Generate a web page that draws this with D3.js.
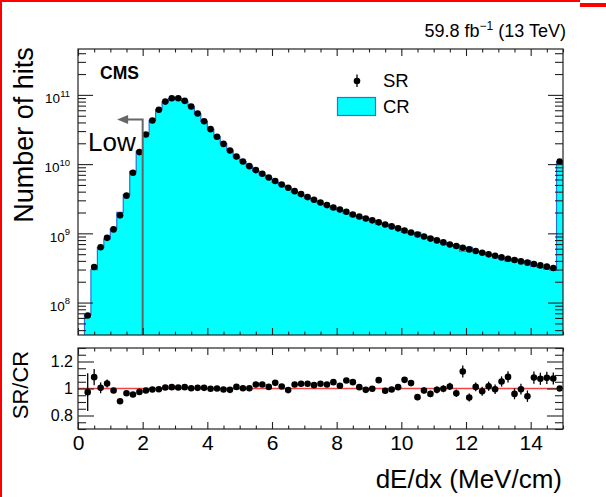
<!DOCTYPE html>
<html><head><meta charset="utf-8">
<script src="https://cdn.jsdelivr.net/npm/d3@7"></script>
<style>
body{margin:0;background:#fff}
svg{display:block}
text{font-family:"Liberation Sans",Arial,Helvetica,sans-serif;fill:#000}
</style>
</head><body>
<svg id="c" width="606" height="497"></svg>
<script>
// ---------------- data ----------------
const binWidth = 0.2;
const binCenters = [0.3,0.5,0.7,0.9,1.1,1.3,1.5,1.7,1.9,2.1,2.3,2.5,2.7,2.9,3.1,3.3,3.5,3.7,3.9,4.1,
  4.3,4.5,4.7,4.9,5.1,5.3,5.5,5.7,5.9,6.1,6.3,6.5,6.7,6.9,7.1,7.3,7.5,7.7,7.9,8.1,
  8.3,8.5,8.7,8.9,9.1,9.3,9.5,9.7,9.9,10.1,10.3,10.5,10.7,10.9,11.1,11.3,11.5,11.7,11.9,12.1,
  12.3,12.5,12.7,12.9,13.1,13.3,13.5,13.7,13.9,14.1,14.3,14.5,14.7,14.9];
const srCounts = [6.5e7,3.26e8,6.3e8,8.6e8,1.14e9,1.82e9,3.5e9,7.5e9,1.49e10,2.68e10,
  4.26e10,6.1e10,8.0e10,8.96e10,8.96e10,8.2e10,6.8e10,5.37e10,4.17e10,3.2e10,
  2.48e10,1.96e10,1.57e10,1.29e10,1.09e10,9.35e9,8.2e9,7.24e9,6.4e9,5.7e9,
  5.08e9,4.55e9,4.07e9,3.69e9,3.34e9,3.05e9,2.79e9,2.56e9,2.36e9,2.21e9,
  2.05e9,1.87e9,1.75e9,1.64e9,1.54e9,1.44e9,1.34e9,1.26e9,1.18e9,1.10e9,
  1.03e9,9.6e8,9.0e8,8.4e8,7.9e8,7.4e8,6.9e8,6.55e8,6.2e8,5.86e8,
  5.55e8,5.25e8,4.97e8,4.75e8,4.49e8,4.3e8,4.11e8,3.93e8,3.77e8,3.6e8,
  3.44e8,3.3e8,3.15e8,1.09e10];
const crCounts = [6.7e7,3.0e8,6.27e8,8.3e8,1.16e9,2.01e9,3.63e9,7.85e9,1.53e10,2.72e10,
  4.29e10,6.13e10,7.95e10,8.87e10,8.9e10,8.12e10,6.79e10,5.34e10,4.15e10,3.2e10,
  2.48e10,1.97e10,1.59e10,1.27e10,1.09e10,9.33e9,7.96e9,7.03e9,6.32e9,5.47e9,
  5.0e9,4.6e9,3.95e9,3.57e9,3.23e9,2.98e9,2.7e9,2.49e9,2.25e9,2.17e9,
  1.94e9,1.79e9,1.73e9,1.66e9,1.54e9,1.36e9,1.36e9,1.27e9,1.17e9,1.03e9,
  0.99e9,1.03e9,9.14e8,8.75e8,7.98e8,7.41e8,6.8e8,6.79e8,5.51e8,6.28e8,
  5.48e8,5.36e8,4.89e8,4.77e8,4.27e8,3.96e8,4.28e8,3.95e8,4.0e8,3.33e8,
  3.21e8,3.06e8,2.93e8,1.09e10];
const ratio = [0.973,1.084,1.005,1.037,0.985,0.906,0.965,0.956,0.975,0.985,
  0.993,0.995,1.007,1.01,1.007,1.01,1.002,1.005,1.005,0.998,
  1.0,0.993,0.99,1.012,1.002,1.002,1.03,1.03,1.012,1.042,
  1.015,0.988,1.03,1.035,1.035,1.025,1.035,1.03,1.047,1.02,
  1.059,1.047,1.01,0.99,0.998,1.062,0.983,0.993,1.01,1.064,
  1.04,0.936,0.985,0.96,0.99,0.998,1.015,0.965,1.126,0.933,
  1.012,0.98,1.017,0.995,1.052,1.086,0.96,0.995,0.943,1.081,
  1.072,1.079,1.074,1.0];
const ratioErr = [0.14,0.06,0.04,0.03,0.02,0.012,0.01,0.008,0.006,0.005,
  0.005,0.005,0.005,0.005,0.005,0.005,0.005,0.005,0.005,0.005,
  0.005,0.005,0.005,0.005,0.005,0.005,0.006,0.006,0.006,0.007,
  0.007,0.007,0.008,0.008,0.008,0.009,0.009,0.01,0.01,0.01,
  0.011,0.011,0.012,0.012,0.013,0.015,0.015,0.016,0.017,0.02,
  0.02,0.022,0.022,0.024,0.025,0.026,0.027,0.028,0.045,0.03,
  0.032,0.033,0.034,0.035,0.038,0.042,0.04,0.04,0.042,0.045,
  0.045,0.045,0.045,0.01];
const xTickValues = [0,2,4,6,8,10,12,14];
const xTickLabels = ["0","2","4","6","8","10","12","14"];
const logTickValues = [1e8,1e9,1e10,1e11];
const logTickExponents = ["8","9","10","11"];
const ratioTickValues = [0.8,1.0,1.2];
const ratioTickLabels = ["0.8","1","1.2"];
const lowCut = 2.0, lowArrowTop = 4.4e10, lowArrowTip = 1.21;

// ---------------- layout ----------------
const svg = d3.select("#c");
const L = 78, R = 563, T1 = 49, B1 = 335, T2 = 348, B2 = 429;
const x = d3.scaleLinear().domain([0, 15]).range([L, R]);
const y1 = d3.scaleLog().domain([3.4e7, 4.6e11]).range([B1, T1]);
const y2 = d3.scaleLinear().domain([0.7, 1.3]).range([B2, T2]);
const CYAN = "#00ffff", BLUE = "#2f6fd6";

// screenshot border decoration
svg.append("rect").attr("x",0).attr("y",0).attr("width",580).attr("height",2).attr("fill","#ff0000");
svg.append("rect").attr("x",580).attr("y",3).attr("width",26).attr("height",4).attr("fill","#ff0000");
svg.append("rect").attr("x",0).attr("y",0).attr("width",2).attr("height",497).attr("fill","#ff0000");

svg.append("clipPath").attr("id","clipMain").append("rect")
  .attr("x",L).attr("y",T1).attr("width",R-L).attr("height",B1-T1);

// histogram (CR)
const n = binCenters.length;
const histPts = [{x: binCenters[0]-binWidth/2, v: y1.domain()[0]}];
binCenters.forEach((c,i)=>histPts.push({x: c-binWidth/2, v: crCounts[i]}));
histPts.push({x: binCenters[n-1]+binWidth/2, v: crCounts[n-1]});
const gMain = svg.append("g").attr("clip-path","url(#clipMain)");
gMain.append("path").datum(histPts)
  .attr("d", d3.area().x(d=>x(d.x)).y0(B1).y1(d=>y1(d.v)).curve(d3.curveStepAfter))
  .attr("fill", CYAN);
gMain.append("path").datum(histPts)
  .attr("d", d3.line().x(d=>x(d.x)).y(d=>y1(d.v)).curve(d3.curveStepAfter))
  .attr("fill","none").attr("stroke",BLUE).attr("stroke-width",1.2);

// Low arrow
const ax = x(lowCut), ay = y1(lowArrowTop), tip = x(lowArrowTip);
svg.append("path").attr("d",`M${ax},${B1}V${ay}H${tip+10}`)
  .attr("fill","none").attr("stroke","#666").attr("stroke-width",2);
svg.append("path").attr("d",`M${tip},${ay}L${tip+11},${ay-4.5}L${tip+11},${ay+4.5}Z`).attr("fill","#666");
svg.append("text").attr("x",88).attr("y",150.5).attr("font-size",26).text("Low");

// SR points
gMain.selectAll("circle.sr").data(binCenters).join("circle")
  .attr("cx",d=>x(d)).attr("cy",(d,i)=>y1(srCounts[i])).attr("r",3.3).attr("fill","#000");

// frame main
function frame(t,b){
  svg.append("rect").attr("x",L).attr("y",t).attr("width",R-L).attr("height",b-t)
    .attr("fill","none").attr("stroke","#222").attr("stroke-width",1.2);
}
function clean(g){ g.select(".domain").remove(); g.selectAll("line").attr("stroke","#222").attr("stroke-width",1.1); }
const xMinor = d3.range(0, 15.001, 0.5).filter(v=>v%2!==0);
function xTicks(t,b,labels){
  svg.append("g").attr("transform",`translate(0,${b})`).call(d3.axisBottom(x).tickValues(xMinor).tickSize(-3.5).tickFormat("")).call(clean);
  svg.append("g").attr("transform",`translate(0,${t})`).call(d3.axisTop(x).tickValues(xMinor).tickSize(-3.5).tickFormat("")).call(clean);
  const gb = svg.append("g").attr("transform",`translate(0,${b})`)
    .call(d3.axisBottom(x).tickValues(xTickValues).tickSize(-7).tickPadding(6)
      .tickFormat((d,i)=>labels ? xTickLabels[i] : "")).call(clean);
  gb.selectAll("text").attr("font-size",21).attr("font-family","Liberation Sans, Arial, sans-serif").attr("fill","#000");
  svg.append("g").attr("transform",`translate(0,${t})`).call(d3.axisTop(x).tickValues(xTickValues).tickSize(-7).tickFormat("")).call(clean);
}
frame(T1,B1);
xTicks(T1,B1,false);
// log y ticks
const logMinor = y1.ticks().filter(v=>!logTickValues.includes(v));
svg.append("g").attr("transform",`translate(${L},0)`).call(d3.axisLeft(y1).tickValues(logMinor).tickSize(-8).tickFormat("")).call(clean);
svg.append("g").attr("transform",`translate(${R},0)`).call(d3.axisRight(y1).tickValues(logMinor).tickSize(-8).tickFormat("")).call(clean);
svg.append("g").attr("transform",`translate(${R},0)`).call(d3.axisRight(y1).tickValues(logTickValues).tickSize(-15).tickFormat("")).call(clean);
const gl = svg.append("g").attr("transform",`translate(${L},0)`)
  .call(d3.axisLeft(y1).tickValues(logTickValues).tickSize(-15).tickPadding(8).tickFormat(""))
  .call(clean);
gl.selectAll(".tick text").each(function(d,i){
  const t = d3.select(this).attr("dy",null).attr("y",7.8).attr("font-size",13.5)
    .attr("font-family","Liberation Sans, Arial, sans-serif").attr("fill","#000");
  t.append("tspan").text("10");
  t.append("tspan").attr("font-size",9.5).attr("dy",-6.6).text(logTickExponents[i]);
});

// legend
svg.append("line").attr("x1",357).attr("x2",357).attr("y1",74.5).attr("y2",87).attr("stroke","#000").attr("stroke-width",1.3);
svg.append("circle").attr("cx",357).attr("cy",81).attr("r",3.3).attr("fill","#000");
svg.append("text").attr("x",383).attr("y",86.7).attr("font-size",18.5).text("SR");
svg.append("rect").attr("x",337.5).attr("y",97.5).attr("width",38).attr("height",18).attr("fill",CYAN).attr("stroke",BLUE).attr("stroke-width",1.2);
svg.append("text").attr("x",383).attr("y",113.3).attr("font-size",18.5).text("CR");

svg.append("text").attr("x",100).attr("y",78.5).attr("font-size",17.5).attr("font-weight","bold").text("CMS");

const lumi = svg.append("text").attr("x",566).attr("y",37).attr("text-anchor","end").attr("font-size",18);
lumi.append("tspan").text("59.8 fb");
lumi.append("tspan").attr("font-size",12).attr("dy",-7.5).text("\u22121");
lumi.append("tspan").attr("dy",7.5).text(" (13 TeV)");

svg.append("text").attr("transform","translate(33,135) rotate(-90)").attr("text-anchor","middle")
  .attr("font-size",27).text("Number of hits");

// ---------------- ratio panel ----------------
svg.append("clipPath").attr("id","clipRatio").append("rect")
  .attr("x",L).attr("y",T2).attr("width",R-L).attr("height",B2-T2);
const gR = svg.append("g").attr("clip-path","url(#clipRatio)");
gR.append("line").attr("x1",x(0)).attr("x2",x(15)).attr("y1",y2(1)).attr("y2",y2(1))
  .attr("stroke","#ee4444").attr("stroke-width",1.3);
gR.selectAll("line.err").data(binCenters).join("line").attr("class","err")
  .attr("x1",d=>x(d)).attr("x2",d=>x(d))
  .attr("y1",(d,i)=>y2(ratio[i]-ratioErr[i])).attr("y2",(d,i)=>y2(ratio[i]+ratioErr[i]))
  .attr("stroke","#000").attr("stroke-width",1.3);
gR.selectAll("circle.rp").data(binCenters).join("circle").attr("class","rp")
  .attr("cx",d=>x(d)).attr("cy",(d,i)=>y2(ratio[i])).attr("r",3.3).attr("fill","#000");

frame(T2,B2);
xTicks(T2,B2,true);
const rMinor = d3.range(0.7, 1.3001, 0.05).filter(v=>!ratioTickValues.some(m=>Math.abs(m-v)<1e-6));
svg.append("g").attr("transform",`translate(${L},0)`).call(d3.axisLeft(y2).tickValues(rMinor).tickSize(-8).tickFormat("")).call(clean);
svg.append("g").attr("transform",`translate(${R},0)`).call(d3.axisRight(y2).tickValues(rMinor).tickSize(-8).tickFormat("")).call(clean);
svg.append("g").attr("transform",`translate(${R},0)`).call(d3.axisRight(y2).tickValues(ratioTickValues).tickSize(-16).tickFormat("")).call(clean);
const gr = svg.append("g").attr("transform",`translate(${L},0)`)
  .call(d3.axisLeft(y2).tickValues(ratioTickValues).tickSize(-16).tickPadding(5).tickFormat((d,i)=>ratioTickLabels[i]))
  .call(clean);
gr.selectAll("text").attr("font-size",16).attr("font-family","Liberation Sans, Arial, sans-serif").attr("fill","#000");

svg.append("text").attr("transform","translate(28,385) rotate(-90)").attr("text-anchor","middle")
  .attr("font-size",22).text("SR/CR");
svg.append("text").attr("x",562).attr("y",488).attr("text-anchor","end").attr("font-size",26).text("dE/dx (MeV/cm)");
</script>
</body></html>
